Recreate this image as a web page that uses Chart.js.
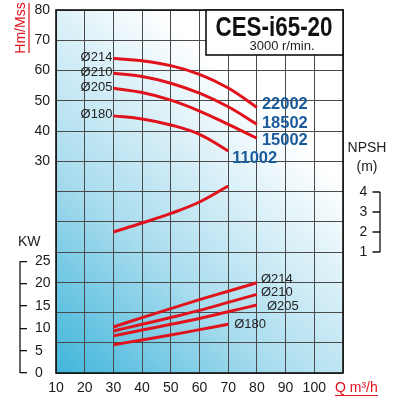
<!DOCTYPE html>
<html>
<head>
<meta charset="utf-8">
<script src="https://cdn.jsdelivr.net/npm/chart.js@4.4.1/dist/chart.umd.min.js"></script>
<style>
  html, body { margin: 0; padding: 0; background: #fff; }
  #wrap { width: 400px; height: 400px; }
</style>
</head>
<body>
<div id="wrap"><canvas id="pumpChart" width="400" height="400"></canvas></div>
<script>
// Caudal Q (m3/h)
const flow = [30, 40, 50, 60, 70, 80];
const flowShort = [30, 40, 50, 60, 70];

// Altura H (m) por diámetro de rodete
const head214 = [64.0, 63.2, 61.6, 58.7, 54.2, 47.8];
const head210 = [59.1, 58.0, 55.8, 52.5, 48.0, 42.2];
const head205 = [54.1, 52.7, 50.2, 46.6, 42.2, 37.6];
const head180 = [45.0, 44.0, 42.0, 38.9, 33.4];

// NPSH (m)
const npshValues = [2.0, 2.45, 2.93, 3.5, 4.3];

// Potencia (kW)
const power214 = [10.3, 12.4, 14.4, 16.4, 18.3, 20.2];
const power210 = [9.4, 10.9, 12.4, 14.0, 15.8, 17.6];
const power205 = [8.3, 9.6, 10.9, 12.2, 13.7, 15.2];
const power180 = [6.3, 7.4, 8.5, 9.7, 10.9];

const diameters = ['Ø214', 'Ø210', 'Ø205', 'Ø180'];
const models = ['22002', '18502', '15002', '11002'];

const flowTicks = [10, 20, 30, 40, 50, 60, 70, 80, 90, 100];
const headTicks = [30, 40, 50, 60, 70, 80];
const powerTicks = [0, 5, 10, 15, 20, 25];
const npshTicks = [1, 2, 3, 4];

const RED = '#e0121c';
const BLUE = '#1a5b9c';
const FONT = '"Liberation Sans", Arial, sans-serif';

// desplazamientos de las etiquetas (px)
const modelOffsets = [[5, -3], [5, -1], [5, 2], [4, 7]];
const powerLabelOffsets = [[4, -3], [4, -1.5], [10, 1.5], [6, 0]];

function toPoints(xs, ys) {
    return ys.map((y, i) => ({ x: xs[i], y: y }));
}

function curve(data, axis) {
    return {
        data: data,
        yAxisID: axis,
        borderColor: RED,
        borderWidth: 3,
        pointRadius: 0,
        fill: false,
        tension: 0.4
    };
}

const datasets = [
    curve(toPoints(flow, head214), 'y'),
    curve(toPoints(flow, head210), 'y'),
    curve(toPoints(flow, head205), 'y'),
    curve(toPoints(flowShort, head180), 'y'),
    curve(toPoints(flowShort, npshValues), 'npsh'),
    curve(toPoints(flow, power214), 'kw'),
    curve(toPoints(flow, power210), 'kw'),
    curve(toPoints(flow, power205), 'kw'),
    curve(toPoints(flowShort, power180), 'kw')
];

function text(ctx, str, x, y, font, color, align) {
    ctx.font = font;
    ctx.fillStyle = color;
    ctx.textAlign = align || 'left';
    ctx.textBaseline = 'middle';
    ctx.fillText(str, x, y);
}

// sin relleno extra por las etiquetas extremas
function noPad(s) {
    s.paddingTop = 0;
    s.paddingBottom = 0;
    s.paddingLeft = 0;
    s.paddingRight = 0;
}

const decorPlugin = {
    id: 'decor',
    beforeDraw(chart) {
        const { ctx, chartArea: a } = chart;
        const g = ctx.createLinearGradient(a.left, a.bottom, a.left + 230, a.top + 120);
        g.addColorStop(0, '#3fb5da');
        g.addColorStop(0.45, '#a8dcee');
        g.addColorStop(1, '#ffffff');
        ctx.save();
        ctx.fillStyle = g;
        ctx.fillRect(a.left, a.top, a.right - a.left, a.bottom - a.top);
        ctx.restore();
    },
    afterDraw(chart) {
        const { ctx, chartArea: a, scales } = chart;
        ctx.save();

        // marco
        ctx.strokeStyle = '#111';
        ctx.lineWidth = 1.6;
        ctx.strokeRect(a.left, a.top, a.right - a.left, a.bottom - a.top);

        // recuadro del titulo
        ctx.fillStyle = '#fff';
        ctx.fillRect(a.right - 137, a.top, 137, 45);
        ctx.strokeRect(a.right - 137, a.top, 137, 45);
        ctx.save();
        ctx.translate(a.right - 69, a.top + 18);
        ctx.scale(0.8, 1);
        text(ctx, 'CES-i65-20', 0, 0, 'bold 28px ' + FONT, '#111', 'center');
        ctx.restore();
        text(ctx, '3000 r/min.', a.right - 61, a.top + 36, '13px ' + FONT, '#222', 'center');

        // eje H
        ctx.save();
        ctx.translate(21, 28);
        ctx.rotate(-Math.PI / 2);
        text(ctx, 'Hm/Mss', 0, 0, '14px ' + FONT, RED, 'center');
        ctx.restore();
        ctx.strokeStyle = RED;
        ctx.lineWidth = 1.2;
        ctx.beginPath();
        ctx.moveTo(29, 3);
        ctx.lineTo(29, 53);
        ctx.stroke();

        // eje Q
        text(ctx, 'Q m³/h', 335, 388, '14px ' + FONT, RED, 'left');
        const qw = ctx.measureText('Q m³/h').width;
        ctx.beginPath();
        ctx.moveTo(335, 395.5);
        ctx.lineTo(335 + qw, 395.5);
        ctx.stroke();

        // eje KW
        const kw = scales.kw;
        text(ctx, 'KW', 18, 242, '14px ' + FONT, '#222', 'left');
        ctx.strokeStyle = '#111';
        ctx.lineWidth = 1.3;
        const kx = kw.right - 7;
        ctx.beginPath();
        ctx.moveTo(kx, kw.getPixelForValue(powerTicks[0]));
        ctx.lineTo(kx, kw.getPixelForValue(powerTicks[powerTicks.length - 1]));
        ctx.stroke();

        // eje NPSH
        const np = scales.npsh;
        text(ctx, 'NPSH', 367, 148, '14px ' + FONT, '#222', 'center');
        text(ctx, '(m)', 367, 167, '14px ' + FONT, '#222', 'center');
        const nx = scales.x.getPixelForValue(122.9);
        ctx.beginPath();
        ctx.moveTo(nx, np.getPixelForValue(npshTicks[0]));
        ctx.lineTo(nx, np.getPixelForValue(npshTicks[npshTicks.length - 1]));
        npshTicks.forEach(v => {
            const py = np.getPixelForValue(v);
            ctx.moveTo(nx - 7.5, py);
            ctx.lineTo(nx, py);
        });
        ctx.stroke();

        // etiquetas de curvas
        for (let i = 0; i < 4; i++) {
            const pts = chart.getDatasetMeta(i).data;
            const first = pts[0], last = pts[pts.length - 1];
            text(ctx, diameters[i], first.x - 1, first.y - 1, '13px ' + FONT, '#222', 'right');
            text(ctx, models[i], last.x + modelOffsets[i][0], last.y + modelOffsets[i][1], 'bold 16.5px ' + FONT, BLUE, 'left');

            const kp = chart.getDatasetMeta(i + 5).data;
            const kl = kp[kp.length - 1];
            text(ctx, diameters[i], kl.x + powerLabelOffsets[i][0], kl.y + powerLabelOffsets[i][1], '13px ' + FONT, '#222', 'left');
        }
        ctx.restore();
    }
};

const tickFont = { family: FONT, size: 14 };

new Chart(document.getElementById('pumpChart'), {
    type: 'line',
    data: { datasets: datasets },
    plugins: [decorPlugin],
    options: {
        responsive: false,
        devicePixelRatio: 1,
        animation: false,
        layout: { padding: { top: 10, right: 57, left: 0, bottom: 0 } },
        plugins: { legend: { display: false }, tooltip: { enabled: false } },
        scales: {
            x: {
                type: 'linear',
                min: 10,
                max: 110,
                ticks: {
                    stepSize: 10,
                    color: '#1a1a1a',
                    font: tickFont,
                    padding: 7,
                    maxRotation: 0,
                    callback: v => flowTicks.includes(v) ? v : ''
                },
                grid: { color: '#4a4a4a', lineWidth: 1, drawTicks: false },
                border: { display: false },
                afterFit: s => { s.height = 27; noPad(s); }
            },
            y: {
                type: 'linear',
                position: 'left',
                weight: 0,
                min: -40,
                max: 80,
                ticks: {
                    stepSize: 10,
                    color: '#1a1a1a',
                    font: tickFont,
                    padding: 6,
                    callback: v => headTicks.includes(v) ? v : ''
                },
                grid: { color: '#4a4a4a', lineWidth: 1, drawTicks: false },
                border: { display: false },
                afterFit: s => { s.width = 29; noPad(s); }
            },
            kw: {
                type: 'linear',
                position: 'left',
                weight: 1,
                min: 0,
                max: 81.2,
                afterBuildTicks: s => { s.ticks = powerTicks.map(v => ({ value: v })); },
                ticks: { mirror: true, padding: 8, color: '#1a1a1a', font: tickFont },
                grid: { drawOnChartArea: false, drawTicks: true, tickLength: 7, tickColor: '#111', lineWidth: 1.3 },
                border: { display: false },
                afterFit: s => { s.width = 27; noPad(s); }
            },
            npsh: {
                type: 'linear',
                position: { x: 118.5 },
                min: -5.05,
                max: 13.1,
                afterBuildTicks: s => { s.ticks = npshTicks.map(v => ({ value: v })); },
                ticks: { color: '#1a1a1a', font: tickFont },
                grid: { display: false, drawTicks: false },
                border: { display: false },
                afterFit: s => { noPad(s); }
            }
        }
    }
});
</script>
</body>
</html>
